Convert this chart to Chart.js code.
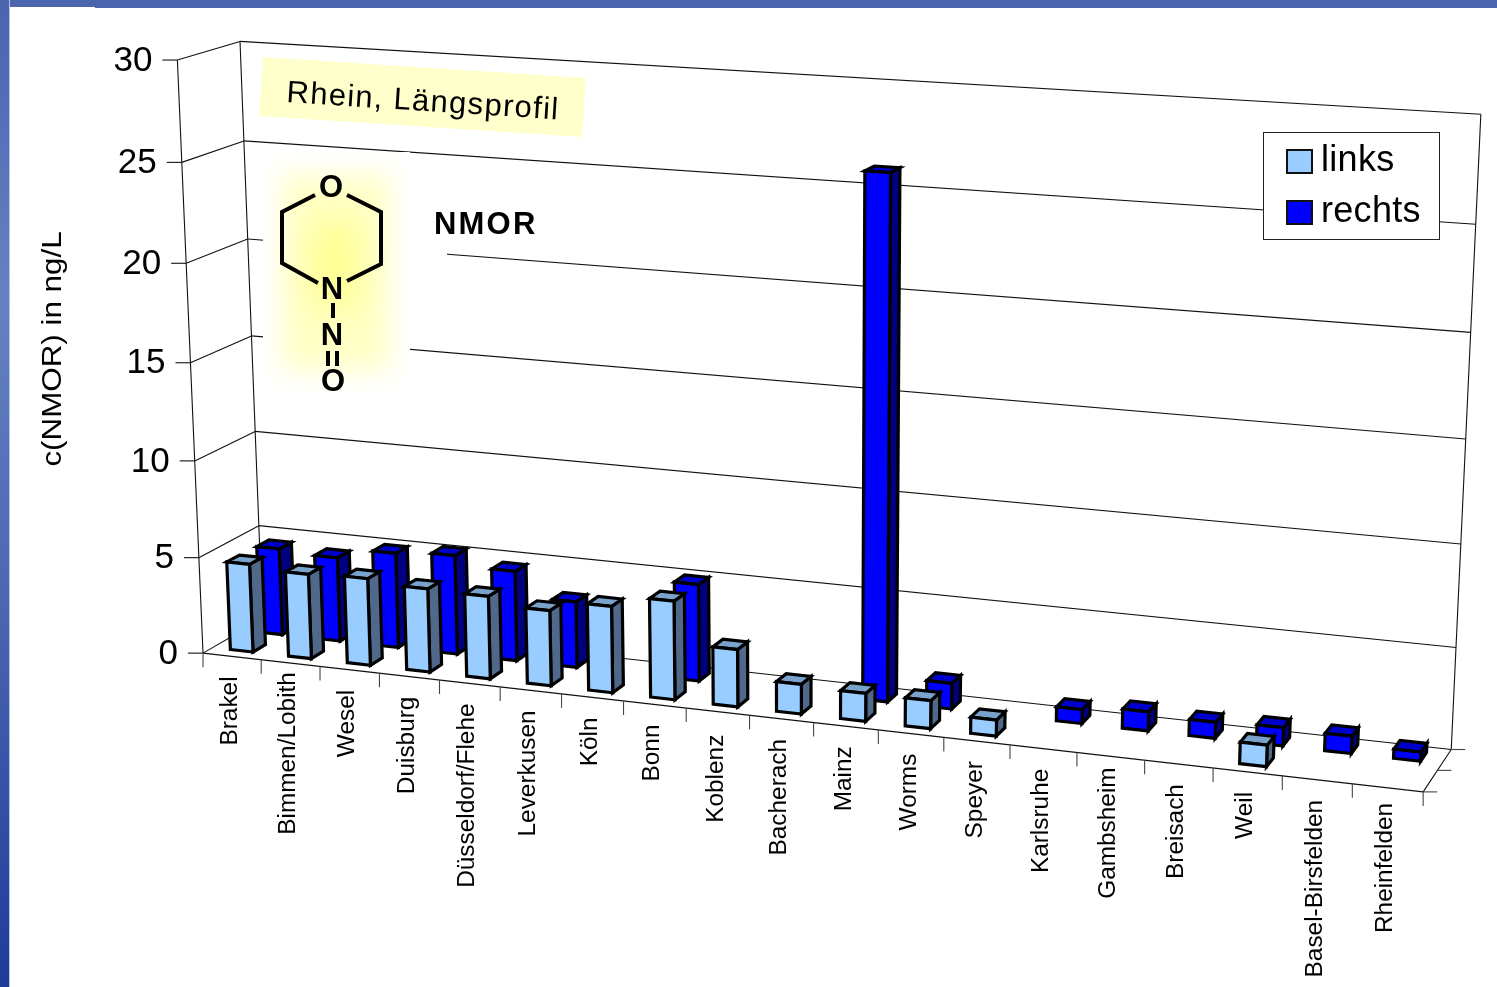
<!DOCTYPE html>
<html>
<head>
<meta charset="utf-8">
<title>NMOR Rhein</title>
<script src="https://cdn.jsdelivr.net/npm/chart.js@4"></script>
<style>
  html, body { margin: 0; padding: 0; background: #fff; overflow: hidden; }
  #topBand { position: fixed; left: 95px; right: 0; top: 0; height: 8px; background: #4a64ae; }
  #topBandLeft { position: fixed; left: 0; width: 95px; top: 0; height: 7px; background: #4a64ae; }
  #leftBand { position: fixed; left: 0; top: 0; bottom: 0; width: 9px; border-right: 1px solid #b4c3ea;
    background: linear-gradient(to bottom, #4a64ae 0%, #6482c4 30%, #4a66b0 62%, #1f3b9a 100%); }
  canvas { position: absolute; left: 0; top: 0; }
</style>
</head>
<body>
<div id="topBand"></div>
<div id="topBandLeft"></div>
<div id="leftBand"></div>
<canvas id="chart" width="1497" height="987"></canvas>
<script>
// NMOR along the Rhine, in ng/L
var stations = ['Brakel', 'Bimmen/Lobith', 'Wesel', 'Duisburg', 'Düsseldorf/Flehe', 'Leverkusen', 'Köln', 'Bonn', 'Koblenz', 'Bacherach', 'Mainz', 'Worms', 'Speyer', 'Karlsruhe', 'Gambsheim', 'Breisach', 'Weil', 'Basel-Birsfelden', 'Rheinfelden'];
var links = [4.6, 4.4, 4.5, 4.3, 4.25, 3.85, 4.4, 5.0, 2.9, 1.5, 1.4, 1.4, 0.8, null, null, null, 1.05, null, null];
var rechts = [4.55, 4.4, 4.95, 5.15, 4.65, 3.4, null, 4.95, null, null, 26, 1.3, null, 0.7, 0.95, 0.8, 0.9, 0.85, 0.45];
var yMax = 30;
var yStep = 5;

var FONT = '"Liberation Sans", Arial, sans-serif';

// depth slots of the two rows on the floor (0 = front edge, 1 = back wall)
var rowDepth = [[0.16, 0.37], [0.66, 0.87]];

// a few long station names sit closer to or further from the axis
var labelShift = { 'Bimmen/Lobith': -11, 'Koblenz': 3, 'Gambsheim': -9, 'Rheinfelden': -5 };

// frame corners on screen: [u along the stations, v up the value axis, z into depth, screen x, screen y]
var framePoints = [
  [0, 0, 0, 203, 653],
  [1, 0, 0, 1423, 792],
  [0, 1, 0, 177, 60],
  [0, 5 / 6, 0, 182, 163],
  [0, 4 / 6, 0, 186, 263],
  [0, 1 / 6, 0, 199, 557],
  [0, 0, 1, 262, 620],
  [1, 0, 1, 1452, 749],
  [0, 1, 1, 240, 41],
  [0, 5 / 6, 1, 244, 141],
  [0, 4 / 6, 1, 248, 240],
  [0, 1 / 6, 1, 259, 524],
  [1, 1, 1, 1481, 114],
  [1, 1 / 6, 1, 1455, 648],
  [10 / 19, 0, 0, 814, 723]
];

// least squares fit of the perspective camera
function solveCamera(points) {
  var n = 11;
  var A = [];
  for (var i = 0; i < n; i++) { A.push(new Array(n + 1).fill(0)); }
  function addRow(row, rhs) {
    for (var r = 0; r < n; r++) {
      for (var c = 0; c < n; c++) { A[r][c] += row[r] * row[c]; }
      A[r][n] += row[r] * rhs;
    }
  }
  points.forEach(function (p) {
    var u = p[0], v = p[1], z = p[2], sx = p[3], sy = p[4];
    addRow([u, v, z, 1, 0, 0, 0, 0, -sx * u, -sx * v, -sx * z], sx);
    addRow([0, 0, 0, 0, u, v, z, 1, -sy * u, -sy * v, -sy * z], sy);
  });
  for (var col = 0; col < n; col++) {
    var best = col;
    for (var r = col + 1; r < n; r++) { if (Math.abs(A[r][col]) > Math.abs(A[best][col])) best = r; }
    var tmp = A[col]; A[col] = A[best]; A[best] = tmp;
    for (var r2 = 0; r2 < n; r2++) {
      if (r2 === col) continue;
      var f = A[r2][col] / A[col][col];
      for (var c2 = col; c2 <= n; c2++) { A[r2][c2] -= f * A[col][c2]; }
    }
  }
  return A.map(function (row, idx) { return row[n] / row[idx]; });
}

var cam = solveCamera(framePoints);

function project(u, v, z) {
  var w = cam[8] * u + cam[9] * v + cam[10] * z + 1;
  return [
    (cam[0] * u + cam[1] * v + cam[2] * z + cam[3]) / w,
    (cam[4] * u + cam[5] * v + cam[6] * z + cam[7]) / w
  ];
}

function polygon(ctx, pts) {
  ctx.beginPath();
  pts.forEach(function (p, i) { if (i === 0) ctx.moveTo(p[0], p[1]); else ctx.lineTo(p[0], p[1]); });
  ctx.closePath();
}

function line(ctx, a, b) {
  ctx.beginPath();
  ctx.moveTo(a[0], a[1]);
  ctx.lineTo(b[0], b[1]);
  ctx.stroke();
}

// bar type that turns the pixel box of each bar into a cuboid
class Bar3DController extends Chart.BarController {
  draw() {
    var chart = this.chart, ctx = chart.ctx, area = chart.chartArea;
    var ds = this.getDataset();
    var depth = rowDepth[this.index];
    var self = this;
    this._cachedMeta.data.forEach(function (el, i) {
      if (!Number.isFinite(self.getParsed(i).y)) return;
      var u0 = (el.x - el.width / 2 - area.left) / area.width;
      var u1 = (el.x + el.width / 2 - area.left) / area.width;
      var v0 = (area.bottom - el.base) / area.height;
      var v1 = (area.bottom - el.y) / area.height;
      var z0 = depth[0], z1 = depth[1];
      ctx.save();
      ctx.lineWidth = 3.2;
      ctx.lineJoin = 'miter';
      ctx.strokeStyle = '#000';
      polygon(ctx, [project(u1, v0, z0), project(u1, v0, z1), project(u1, v1, z1), project(u1, v1, z0)]);
      ctx.fillStyle = ds.sideColor; ctx.fill(); ctx.stroke();
      polygon(ctx, [project(u0, v1, z0), project(u1, v1, z0), project(u1, v1, z1), project(u0, v1, z1)]);
      ctx.fillStyle = ds.topColor; ctx.fill(); ctx.stroke();
      polygon(ctx, [project(u0, v0, z0), project(u1, v0, z0), project(u1, v1, z0), project(u0, v1, z0)]);
      ctx.fillStyle = ds.backgroundColor; ctx.fill(); ctx.stroke();
      ctx.restore();
    });
  }
}
Bar3DController.id = 'bar3d';
Bar3DController.defaults = Chart.BarController.defaults;
Bar3DController.overrides = Chart.BarController.overrides;
Chart.register(Bar3DController);

// walls, floor, ticks and axis labels
var framePlugin = {
  id: 'frame',
  beforeDatasetsDraw: function (chart) {
    var ctx = chart.ctx, area = chart.chartArea;
    var xs = chart.scales.x, ys = chart.scales.y;
    var count = stations.length;
    ctx.save();
    ctx.strokeStyle = '#111';
    ctx.lineWidth = 1.1;

    // value gridlines over side wall and back wall
    ys.ticks.forEach(function (t) {
      var v = (area.bottom - ys.getPixelForValue(t.value)) / area.height;
      var front = project(0, v, 0), back = project(0, v, 1);
      line(ctx, front, back);
      line(ctx, back, project(1, v, 1));
      line(ctx, [front[0] - 15, front[1]], front);
    });

    line(ctx, project(0, 0, 0), project(0, 1, 0));
    line(ctx, project(0, 0, 1), project(0, 1, 1));
    line(ctx, project(1, 0, 1), project(1, 1, 1));
    line(ctx, project(0, 0, 0), project(1, 0, 0));
    line(ctx, project(1, 0, 0), project(1, 0, 1));

    // station ticks under the front edge
    ctx.strokeStyle = '#444';
    for (var i = 0; i <= count; i++) {
      var p = project(i / count, 0, 0);
      line(ctx, p, [p[0], p[1] + 14]);
    }
    // depth ticks at the right hand corner
    [0, 0.5, 1].forEach(function (z) {
      var p = project(1, 0, z);
      line(ctx, p, [p[0] + 14, p[1]]);
    });

    ctx.fillStyle = '#000';
    ctx.textBaseline = 'middle';

    // value labels
    ctx.font = '35px ' + FONT;
    ctx.textAlign = 'right';
    ys.ticks.forEach(function (t) {
      var v = (area.bottom - ys.getPixelForValue(t.value)) / area.height;
      var p = project(0, v, 0);
      ctx.fillText(t.label, p[0] - 25, p[1] + 1);
    });

    // station labels, read from the top downwards
    ctx.font = '24.4px ' + FONT;
    ctx.textAlign = 'right';
    stations.forEach(function (name, i) {
      var u = (xs.getPixelForValue(i) - area.left) / area.width;
      var p = project(u, 0, 0);
      ctx.save();
      ctx.translate(p[0] - 2, p[1] + 20 + (labelShift[name] || 0));
      ctx.rotate(-Math.PI / 2);
      ctx.fillText(name, 0, 0);
      ctx.restore();
    });

    // axis title
    ctx.save();
    ctx.translate(53, 349);
    ctx.rotate(-Math.PI / 2);
    ctx.scale(1.14, 1);
    ctx.font = '27.5px ' + FONT;
    ctx.textAlign = 'center';
    ctx.fillText('c(NMOR) in ng/L', 0, 0);
    ctx.restore();
    ctx.restore();
  },
  afterDatasetsDraw: function (chart) {
    var ctx = chart.ctx;
    drawCaption(ctx);
    drawMolecule(ctx);
    drawLegend(ctx, chart);
  }
};

function drawCaption(ctx) {
  ctx.save();
  polygon(ctx, [[263, 57], [586, 78], [582, 137], [259, 116]]);
  ctx.fillStyle = '#ffffcc';
  ctx.fill();
  ctx.translate(286, 102);
  ctx.rotate(0.064);
  ctx.fillStyle = '#000';
  ctx.font = '31px ' + FONT;
  ctx.letterSpacing = '1.3px';
  ctx.textAlign = 'left';
  ctx.textBaseline = 'alphabetic';
  ctx.fillText('Rhein, Längsprofil', 0, 0);
  ctx.restore();
}

function drawMolecule(ctx) {
  ctx.save();
  // white panel behind formula and name, gridlines stop at it
  ctx.fillStyle = '#fff';
  ctx.fillRect(263, 152, 147, 243);
  ctx.fillRect(410, 205, 37, 52);

  // soft yellow glow, a pale outer block and a stronger core
  ctx.save();
  ctx.beginPath();
  ctx.rect(263, 152, 147, 243);
  ctx.clip();
  ctx.filter = 'blur(14px)';
  ctx.fillStyle = '#ffffc4';
  ctx.fillRect(282, 175, 108, 195);
  ctx.filter = 'blur(16px)';
  ctx.fillStyle = '#ffff90';
  ctx.fillRect(312, 222, 46, 85);
  ctx.restore();

  ctx.strokeStyle = '#000';
  ctx.lineWidth = 4;
  ctx.lineJoin = 'miter';
  ctx.lineCap = 'butt';
  var bonds = [
    [[315, 195], [282, 212], [282, 263], [318, 283]],
    [[347, 195], [381, 212], [381, 264], [347, 281]],
    [[333, 303], [333, 318]],
    [[328, 351], [328, 366]],
    [[337, 351], [337, 366]]
  ];
  bonds.forEach(function (b) {
    ctx.beginPath();
    b.forEach(function (p, i) { if (i === 0) ctx.moveTo(p[0], p[1]); else ctx.lineTo(p[0], p[1]); });
    ctx.stroke();
  });

  ctx.fillStyle = '#000';
  ctx.font = 'bold 31px ' + FONT;
  ctx.textAlign = 'center';
  ctx.textBaseline = 'alphabetic';
  ctx.fillText('O', 331, 197);
  ctx.fillText('N', 332, 299);
  ctx.fillText('N', 332, 345);
  ctx.fillText('O', 333, 391);

  ctx.textAlign = 'left';
  ctx.letterSpacing = '2.2px';
  ctx.fillText('NMOR', 434, 234);
  ctx.restore();
}

function drawLegend(ctx, chart) {
  ctx.save();
  ctx.fillStyle = '#fff';
  ctx.fillRect(1263.5, 132.5, 176, 107);
  ctx.strokeStyle = '#222';
  ctx.lineWidth = 1;
  ctx.strokeRect(1263.5, 132.5, 176, 107);
  ctx.font = '36px ' + FONT;
  ctx.textAlign = 'left';
  ctx.textBaseline = 'alphabetic';
  chart.data.datasets.forEach(function (ds, i) {
    var top = 150 + i * 51;
    ctx.fillStyle = ds.backgroundColor;
    ctx.fillRect(1287, top, 25, 23);
    ctx.strokeStyle = '#111';
    ctx.lineWidth = 2;
    ctx.strokeRect(1287, top, 25, 23);
    ctx.fillStyle = '#000';
    ctx.letterSpacing = '0.3px';
    ctx.fillText(ds.label, 1321, top + 21);
  });
  ctx.restore();
}

new Chart(document.getElementById('chart'), {
  type: 'bar3d',
  data: {
    labels: stations,
    datasets: [
      { label: 'links', data: links, backgroundColor: '#99ccff', sideColor: '#50698a', topColor: '#7aa3cc', grouped: false, categoryPercentage: 1, barPercentage: 0.39, clip: false },
      { label: 'rechts', data: rechts, backgroundColor: '#0000ff', sideColor: '#000080', topColor: '#0000cc', grouped: false, categoryPercentage: 1, barPercentage: 0.39, clip: false }
    ]
  },
  options: {
    responsive: false,
    animation: false,
    layout: { padding: 0 },
    scales: {
      x: { type: 'category', offset: true, display: false },
      y: { type: 'linear', min: 0, max: yMax, ticks: { stepSize: yStep }, display: false }
    },
    plugins: {
      legend: { display: false },
      tooltip: { enabled: false }
    }
  },
  plugins: [framePlugin]
});
</script>
</body>
</html>
